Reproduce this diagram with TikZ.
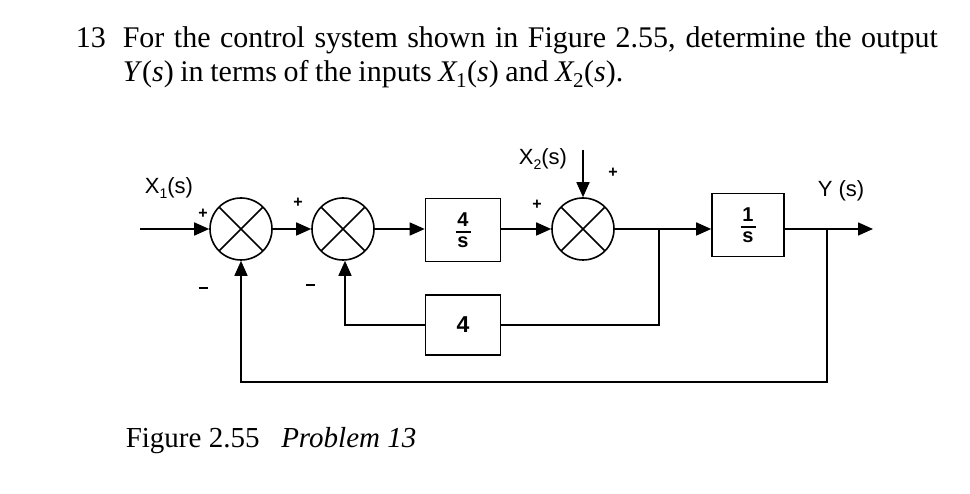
\documentclass[tikz,border=0pt]{standalone}
\usepackage{fontspec}
\setmainfont{Liberation Serif}
\newfontfamily\sansf{Liberation Sans}
\usetikzlibrary{arrows.meta}
\newcommand\frc[2]{\vbox{\hbox to 15pt{\hss#1\hss}\kern5pt\hrule height 2pt\kern3.5pt\hbox to 15pt{\hss#2\hss}}}
\newcommand\sub[1]{\raisebox{-0.45ex}{\fontsize{14}{14}\selectfont #1}}
\begin{document}
\begin{tikzpicture}[x=1pt,y=-1pt,line width=1.6pt,
  sumj/.style={circle,draw,minimum size=62pt,inner sep=0pt,
    path picture={\draw[line width=1.6pt] (path picture bounding box.south west) -- (path picture bounding box.north east)
      (path picture bounding box.north west) -- (path picture bounding box.south east);}},
  blk/.style={draw,inner sep=0pt,font=\sansf\bfseries\fontsize{20}{20}\selectfont},
  lbl/.style={font=\sansf\fontsize{22}{22}\selectfont,inner sep=0pt},
  sgn/.style={font=\sansf\bfseries\fontsize{16}{16}\selectfont,inner sep=0pt},
  arr/.style={-{Triangle[length=15pt,width=13pt]}},
  ttl/.style={font=\fontsize{30}{30}\selectfont,inner sep=0pt,anchor=base west}]
\useasboundingbox (0,0) rectangle (970,494);
% title
\node[ttl] (n13) at (75,48) {13};
\node[ttl] (t1) at (122,48) {\makebox[815pt][s]{For the control system shown in Figure 2.55, determine the output}};
\node[ttl] (t2) at (122,82) {\spaceskip=0.22em\textit{Y}(\textit{s}) in terms of the inputs \textit{X}\kern-1.5pt\textsubscript{1}(\textit{s}) and \textit{X}\kern-1.5pt\textsubscript{2}(\textit{s}).};
% diagram
\coordinate (in) at (140,229);
\node[sumj] (s1) at (241,229) {};
\node[sumj] (s2) at (343,229) {};
\node[blk,minimum width=75pt,minimum height=63pt] (b1) at (463,230) {\frc{4}{s}};
\node[sumj] (s3) at (583,229) {};
\node[blk,minimum width=72pt,minimum height=63pt] (b2) at (748,225) {\frc{1}{s}};
\node[blk,minimum width=75pt,minimum height=60pt,font=\sansf\bfseries\fontsize{23}{23}\selectfont] (b3) at (463,325) {4};
\coordinate (x2) at (583,150);
\coordinate (p1) at (659,229);
\coordinate (p2) at (827,229);
\coordinate (out) at (873,229);
\coordinate (q1) at (659,325);
\coordinate (q2) at (345,325);
\coordinate (r1) at (827,382);
\coordinate (r2) at (241,382);
\draw[arr] (in) -- (s1);
\draw[arr] (s1) -- (s2);
\draw[arr] (s2) -- (b1.west |- s2);
\draw[arr] (b1.east |- s3) -- (s3);
\draw[arr] (x2) -- (s3);
\draw[arr] (s3.east) -- (b2.west |- s3);
\draw[arr] (b2.east |- p2) -- (out);
\draw (p1) -- (q1) -- (b3.east);
\draw[arr] (b3.west) -- (q2) -- (q2 |- s2.south);
\draw[arr] (p2) -- (r1) -- (r2) -- (s1.south);
% labels
\node[lbl] (lx1) at (169,188) {X\sub{1}(s)};
\node[lbl] (lx2) at (543,159) {X\sub{2}(s)};
\node[lbl] (ly) at (841,191) {Y (s)};
\node[sgn] (pl1) at (203,214) {+};
\node[sgn] (pl2) at (298,203) {+};
\node[sgn] (pl3) at (537,205) {+};
\node[sgn] (pl4) at (613,173) {+};
\node[inner sep=0pt] (mi1) at (203,288) {\rule{9pt}{2.5pt}};
\node[inner sep=0pt] (mi2) at (310,285) {\rule{9pt}{2.5pt}};
% caption
\node[font=\fontsize{29}{29}\selectfont,inner sep=0pt,anchor=base west] (cap) at (125,448) {Figure 2.55\hspace{0.75em}\textit{Problem 13}};
\end{tikzpicture}
\end{document}
